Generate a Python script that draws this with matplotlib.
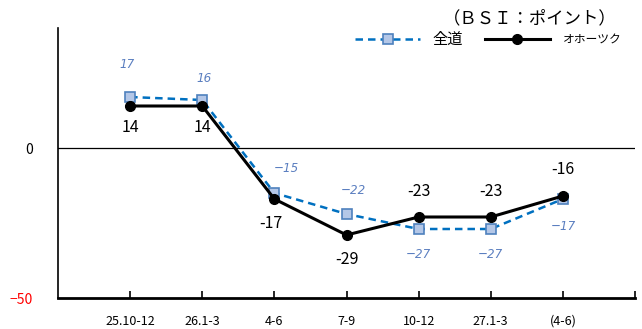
import matplotlib
matplotlib.use("Agg")
import matplotlib.pyplot as plt

plt.rcParams['font.family'] = ['Noto Sans CJK JP', 'DejaVu Sans']

categories = ["25.10-12", "26.1-3", "4-6", "7-9", "10-12", "27.1-3", "(4-6)"]
zendo = [17, 16, -15, -22, -27, -27, -17]
okhotsk = [14, 14, -17, -29, -23, -23, -16]

# label offsets in pixels (dx, dy)
zendo_off = [(-3, 32), (2, 22), (12, 24), (7, 23), (0, -25), (0, -25), (0, -28)]
okh_off = [(0, -22), (0, -22), (-3, -25), (0, -25), (0, 25), (0, 25), (0, 26)]

fig = plt.figure(figsize=(6.42, 3.29), dpi=100)
ax = fig.add_axes([58/642, 1-298/329, (635-58)/642, (298-28)/329])

x = list(range(1, len(categories)+1))
ax.plot(x, zendo, linestyle=(0, (3, 2)), color='#0070C0', lw=1.8,
        marker='s', ms=6.5, mfc='#B4C7E7', mec='#4F81BD', mew=1.2, label='全道', zorder=3)
ax.plot(x, okhotsk, linestyle='-', color='black', lw=2.2,
        marker='o', ms=7, mfc='black', mec='black', label='オホーツク', zorder=4)

for xi, v, (dx, dy) in zip(x, zendo, zendo_off):
    lbl = str(v).replace('-', '−')
    ax.annotate(lbl, (xi, v), xytext=(dx, dy), textcoords='offset pixels',
                ha='center', va='center', fontsize=9.5, style='italic',
                family='DejaVu Sans', fontstretch='condensed', color='#5B7FC0')
for xi, v, (dx, dy) in zip(x, okhotsk, okh_off):
    ax.annotate(str(v), (xi, v), xytext=(dx, dy), textcoords='offset pixels',
                ha='center', va='center', fontsize=11.5, color='black')

ax.axhline(0, color='black', lw=0.9, zorder=1)
ax.set_xlim(0, 8)
ax.set_ylim(-50, 40)

ax.spines['top'].set_visible(False)
ax.spines['right'].set_visible(False)
ax.spines['left'].set_linewidth(1.2)
ax.spines['bottom'].set_linewidth(2.0)

ax.set_xticks(list(range(1, 9)))
ax.set_xticklabels(categories + [''], fontsize=9)
ax.tick_params(axis='x', direction='in', length=5, width=1.2, pad=12)
ax.set_yticks([0, -50])
ax.set_yticklabels(['0', '−50'], fontsize=10)
ax.get_yticklabels()[1].set_color('red')
ax.tick_params(axis='y', length=0, pad=18)

leg = ax.legend(loc='upper right', bbox_to_anchor=(1.0, 1.04), ncol=2, frameon=False,
                fontsize=11, handlelength=4.3, columnspacing=1.4, handletextpad=0.8)
leg.get_texts()[1].set_fontsize(8.5)

fig.text(617/642, 1-18/329, '（ＢＳＩ：ポイント）', ha='right', va='center', fontsize=12.5)

fig.savefig('out.png', dpi=100)
